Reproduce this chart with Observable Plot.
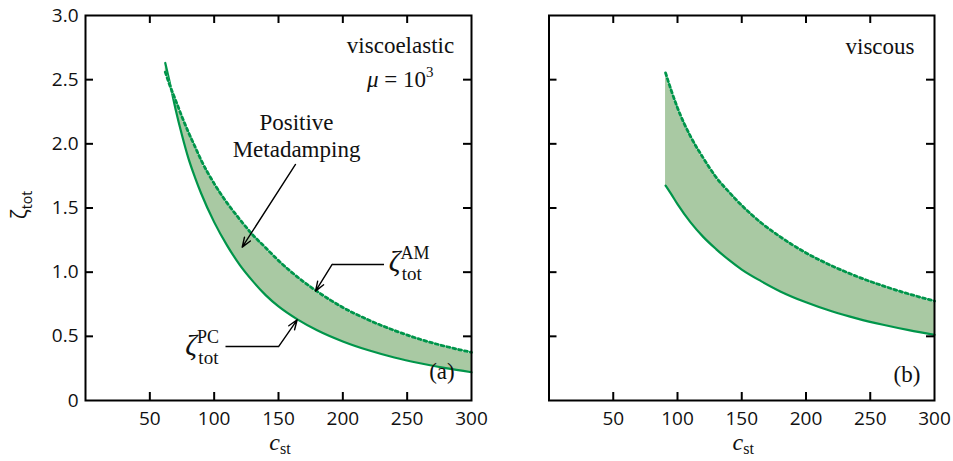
<!DOCTYPE html>
<html><head><meta charset="utf-8">
<script src="https://cdn.jsdelivr.net/npm/d3@7"></script>
<script src="https://cdn.jsdelivr.net/npm/@observablehq/plot@0.6"></script>
<style>
body{margin:0;background:#fff;}
#wrap{position:relative;width:953px;height:461px;background:#fff;}
#wrap > div{position:absolute;top:0;}
</style></head><body>
<div id="wrap"><div id="pa" style="left:0"></div><div id="pb" style="left:490px"></div></div>
<script>
// ---- data: panel (a) viscoelastic ----
const cA  = [62, 65, 70, 75, 80, 85, 90, 100, 110, 120, 130, 140, 150, 165, 180, 200, 220, 240, 260, 280, 300];
const pcA = [2.63, 2.50, 2.27, 2.067, 1.887, 1.741, 1.611, 1.39, 1.209, 1.055, 0.93, 0.821, 0.733, 0.63, 0.547, 0.46, 0.391, 0.335, 0.29, 0.252, 0.22];
const amA = [2.56, 2.47, 2.34, 2.21, 2.09, 1.98, 1.87, 1.69, 1.54, 1.41, 1.29, 1.19, 1.09, 0.96, 0.85, 0.725, 0.627, 0.546, 0.477, 0.421, 0.375];
// ---- data: panel (b) viscous ----
const cB  = [90.7, 95, 100, 110, 120, 130, 140, 150, 165, 180, 200, 220, 240, 260, 280, 300];
const pcB = [1.675, 1.61, 1.53, 1.39, 1.275, 1.18, 1.095, 1.02, 0.93, 0.85, 0.765, 0.695, 0.638, 0.59, 0.548, 0.512];
const amB = [2.553, 2.42, 2.28, 2.06, 1.89, 1.74, 1.625, 1.52, 1.385, 1.275, 1.15, 1.05, 0.965, 0.893, 0.83, 0.775];
// ---- axes ----
const xTicks = [50, 100, 150, 200, 250, 300];
const yTicks = [0, 0.5, 1, 1.5, 2, 2.5, 3];
const yTickLabels = ["0", "0.5", "1.0", "1.5", "2.0", "2.5", "3.0"];
// ---- annotations ----
const notesA = [
  {x: 244.8, y: 2.704, text: "viscoelastic"},
  {x: 164, y: 1.896, text: "Positive\nMetadamping"},
  {x: 277, y: 0.164, text: "(a)"}
];
const notesB = [
  {x: 257.6, y: 2.70, text: "viscous"},
  {x: 278.5, y: 0.148, text: "(b)"}
];
const arrowsA = [
  {x1: 163.2, y1: 1.839, x2: 121.8, y2: 1.195},
  {x1: 191.7, y1: 1.06, x2: 178.8, y2: 0.852},
  {x1: 150.2, y1: 0.421, x2: 164.5, y2: 0.629}
];
const leadersA = [
  {x1: 191.7, y1: 1.06, x2: 232, y2: 1.06},
  {x1: 108.8, y1: 0.421, x2: 150.2, y2: 0.421}
];
const zetaLabels = [
  {x: 236, y: 1.005, sup: "AM", sub: "tot"},
  {x: 78, y: 0.351, sup: "PC", sub: "tot"}
];
const muLabel = {x: 245, y: 2.439};

const GREEN = "#00954a", FILL = "#a9c9a3";
const H = 461, MT = 15, MB = 61, TL = 8;
const SERIF = "'Liberation Serif','Times New Roman',serif";

function rows(c, pc, am) { return c.map((v, i) => ({c: v, pc: pc[i], am: am[i]})); }

function panel({data, width, ml, mr, yLabels, extra}) {
  const fw = width - ml - mr, fh = H - MT - MB;
  const inner = xTicks.slice(0, -1), innerY = yTicks.slice(1, -1);
  return Plot.plot({
    width, height: H, marginLeft: ml, marginRight: mr, marginTop: MT, marginBottom: MB,
    x: {domain: [0, 300]},
    y: yLabels ? {domain: [0, 3]} : {domain: [0, 3], axis: null},
    style: {fontFamily: "'Open Sans', sans-serif", fontSize: "19px", color: "#111", background: "white", overflow: "visible"},
    marks: [
      Plot.areaY(data, {x: "c", y1: "pc", y2: "am", fill: FILL, curve: "monotone-x"}),
      Plot.line(data, {x: "c", y: "pc", stroke: GREEN, strokeWidth: 2.2, curve: "monotone-x"}),
      Plot.line(data, {x: "c", y: "am", stroke: "white", strokeWidth: 2.2, curve: "monotone-x"}),
      Plot.line(data, {x: "c", y: "am", stroke: GREEN, strokeWidth: 2.8, strokeDasharray: "3,3", curve: "monotone-x"}),
      Plot.tickX(inner, {x: d => d, insetTop: fh - TL, stroke: "black", strokeWidth: 2}),
      Plot.tickX(inner, {x: d => d, insetBottom: fh - TL, stroke: "black", strokeWidth: 2}),
      Plot.tickY(innerY, {y: d => d, insetRight: fw - TL, stroke: "black", strokeWidth: 2}),
      Plot.tickY(innerY, {y: d => d, insetLeft: fw - TL, stroke: "black", strokeWidth: 2}),
      Plot.frame({stroke: "black", strokeWidth: 2}),
      Plot.axisX({ticks: xTicks, tickSize: 0, tickPadding: 11, label: null, fontSize: 19}),
      yLabels ? Plot.axisY({ticks: yTicks, tickFormat: d => yTickLabels[yTicks.indexOf(d)], tickSize: 0, tickPadding: 7, label: null, fontSize: 19}) : null,
      ...extra
    ]
  });
}

function noteMarks(notes) {
  return Plot.text(notes, {x: "x", y: "y", text: "text", fontFamily: SERIF, fontSize: 23, lineAnchor: "bottom", textAnchor: "middle", lineHeight: 1.17, fill: "#111"});
}

const plotA = panel({
  data: rows(cA, pcA, amA), width: 490, ml: 85, mr: 19, yLabels: true,
  extra: [
    noteMarks(notesA),
    Plot.link(leadersA, {x1: "x1", y1: "y1", x2: "x2", y2: "y2", stroke: "black", strokeWidth: 1.6}),
    Plot.arrow(arrowsA, {x1: "x1", y1: "y1", x2: "x2", y2: "y2", stroke: "black", strokeWidth: 1.4, headLength: 11, headAngle: 40})
  ]
});
const plotB = panel({
  data: rows(cB, pcB, amB), width: 463, ml: 58.5, mr: 19, yLabels: false,
  extra: [noteMarks(notesB)]
});
document.getElementById("pa").appendChild(plotA);
document.getElementById("pb").appendChild(plotB);

// rich-text labels positioned through the plots' scales
function addText(svg, px, py, attrs) {
  const t = d3.select(svg).append("text").attr("x", px).attr("y", py).attr("fill", "#111");
  for (const k in attrs) t.attr(k, attrs[k]);
  return t;
}
[plotA, plotB].forEach(p => {
  const xs = p.scale("x");
  const cx = (xs.apply(0) + xs.apply(300)) / 2 + 2;
  const t = addText(p, cx, 450, {"text-anchor": "middle", "font-family": SERIF});
  t.append("tspan").attr("font-style", "italic").attr("font-size", 24).text("c");
  t.append("tspan").attr("font-size", 16).attr("dy", 4).text("st");
});
{
  const xs = plotA.scale("x"), ys = plotA.scale("y");
  // y axis title
  const t = addText(plotA, 0, 0, {"text-anchor": "middle", "font-family": "'Open Sans', sans-serif", transform: "translate(27,205) rotate(-90)"});
  t.append("tspan").attr("font-size", 21).text("ζ");
  t.append("tspan").attr("font-size", 14).attr("dy", 5).text("tot");
  // zeta labels
  zetaLabels.forEach(z => {
    const px = xs.apply(z.x), py = ys.apply(z.y);
    const s = addText(plotA, px, py, {"font-family": SERIF, "text-anchor": "start"});
    s.append("tspan").attr("font-style", "italic").attr("font-size", 29).text("ζ");
    s.append("tspan").attr("font-size", 18).attr("dy", -12).text(z.sup);
    s.append("tspan").attr("font-size", 19).attr("x", px + 13).attr("dy", 21).text(z.sub);
  });
  // mu label
  const m = addText(plotA, xs.apply(muLabel.x), ys.apply(muLabel.y), {"font-family": SERIF, "font-size": 23, "text-anchor": "middle"});
  m.append("tspan").attr("font-style", "italic").text("μ");
  m.append("tspan").text(" = 10");
  m.append("tspan").attr("font-size", 15).attr("dy", -10).text("3");
}
</script>
</body></html>
